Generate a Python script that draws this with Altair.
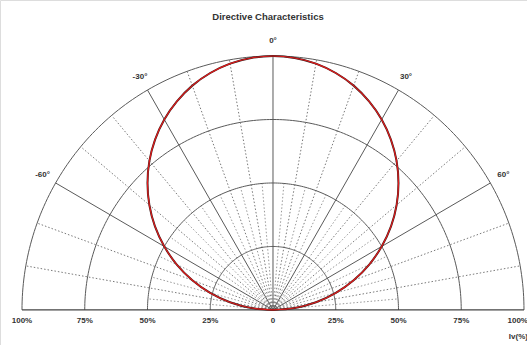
import math
import altair as alt
import pandas as pd

# Relative luminous intensity (%) against emission angle (degrees)
angles = [-90, -85, -80, -75, -70, -65, -60, -55, -50, -45, -40, -35, -30, -25, -20, -15, -10, -5,
          0, 5, 10, 15, 20, 25, 30, 35, 40, 45, 50, 55, 60, 65, 70, 75, 80, 85, 90]
intensity = [0, 8.7, 17.4, 25.9, 34.2, 42.3, 50.0, 57.4, 64.3, 70.7, 76.6, 81.9, 86.6, 90.6, 94.0, 96.6, 98.5, 99.6,
             100, 99.6, 98.5, 96.6, 94.0, 90.6, 86.6, 81.9, 76.6, 70.7, 64.3, 57.4, 50.0, 42.3, 34.2, 25.9, 17.4, 8.7, 0]

ring_levels = [25, 50, 75, 100]
major_spokes = [-60, -30, 0, 30, 60]
minor_spokes = [-80, -70, -50, -40, -20, -10, 10, 20, 40, 50, 70, 80]
inner_spokes = [-85, -75, -65, -55, -45, -35, -25, -15, -5, 5, 15, 25, 35, 45, 55, 65, 75, 85]
angle_labels = ["-60°", "-30°", "0°", "30°", "60°"]
axis_ticks = [-100, -75, -50, -25, 0, 25, 50, 75]
axis_labels = ["100%", "75%", "50%", "25%", "0", "25%", "50%", "75%"]
edge_label = "100%"

title = "Directive Characteristics"
unit_label = "Iv(%)"

LABEL_R = 106
INNER_R = 50


def polar(r, deg):
    a = math.radians(deg)
    return r * math.sin(a), r * math.cos(a)


# polar-to-cartesian tables
curve = pd.DataFrame(
    [dict(order=i, x=polar(r, a)[0], y=polar(r, a)[1]) for i, (a, r) in enumerate(zip(angles, intensity))]
)

ring_rows = []
for lvl in ring_levels:
    for d in range(-90, 91):
        x, y = polar(lvl, d)
        ring_rows.append(dict(ring=lvl, order=d, x=x, y=y))
rings = pd.DataFrame(ring_rows)


def spokes(list_deg, r):
    rows = []
    for d in list_deg:
        x, y = polar(r, d)
        rows.append(dict(x=0.0, y=0.0, x2=x, y2=y))
    return pd.DataFrame(rows)


major = spokes(major_spokes, 100)
minor = spokes(minor_spokes, 100)
inner = spokes(inner_spokes, INNER_R)

alabels = pd.DataFrame(
    [dict(x=polar(LABEL_R, d)[0], y=polar(LABEL_R, d)[1], t=t) for d, t in zip(major_spokes, angle_labels)]
)
blabels = pd.DataFrame(dict(x=axis_ticks, y=[0] * len(axis_ticks), t=axis_labels))

xs = alt.Scale(domain=[-108.76, 101.2], nice=False, zero=False)
ys = alt.Scale(domain=[-13.8, 122.05], nice=False, zero=False)
X = lambda f="x": alt.X(f"{f}:Q", scale=xs, axis=None)
Y = lambda f="y": alt.Y(f"{f}:Q", scale=ys, axis=None)

ring_layer = alt.Chart(rings).mark_line(color="#5a5a5a", strokeWidth=1).encode(
    x=X(), y=Y(), detail="ring:N", order="order:Q"
)
major_layer = alt.Chart(major).mark_rule(color="#5a5a5a", strokeWidth=1).encode(
    x=X(), y=Y(), x2="x2:Q", y2="y2:Q"
)
minor_layer = alt.Chart(minor).mark_rule(color="#7a7a7a", strokeWidth=1, strokeDash=[1.5, 2]).encode(
    x=X(), y=Y(), x2="x2:Q", y2="y2:Q"
)
inner_layer = alt.Chart(inner).mark_rule(color="#9a9a9a", strokeWidth=1, strokeDash=[1.5, 2]).encode(
    x=X(), y=Y(), x2="x2:Q", y2="y2:Q"
)
base_layer = alt.Chart(pd.DataFrame(dict(x=[-100], x2=[100], y=[0]))).mark_rule(
    color="#444444", strokeWidth=1.2
).encode(x=X(), x2="x2:Q", y=Y())

curve_under = alt.Chart(curve).mark_line(color="#3a2020", strokeWidth=2.0, interpolate="cardinal").encode(
    x=X(), y=Y(), order="order:Q"
)
curve_layer = alt.Chart(curve).mark_line(color="#e01b1b", strokeWidth=1.2, interpolate="cardinal").encode(
    x=X(), y=Y(), order="order:Q"
)

txt = dict(font="Liberation Sans", fontWeight="bold", fontSize=8, color="#333333")
angle_text = alt.Chart(alabels).mark_text(baseline="middle", **txt).encode(
    x=X(), y=Y(), text="t:N"
)
axis_text = alt.Chart(blabels).mark_text(baseline="middle", dy=11, **txt).encode(
    x=X(), y=Y(), text="t:N"
)
# right-most tick label and unit caption are kept inside the right edge
edge_text = alt.Chart(pd.DataFrame(dict(x=[100], y=[0], t=[edge_label]))).mark_text(
    align="right", baseline="middle", dx=4, dy=11, **txt
).encode(x=X(), y=Y(), text="t:N")
unit_text = alt.Chart(pd.DataFrame(dict(x=[100], y=[0], t=[unit_label]))).mark_text(
    align="right", baseline="middle", dx=4, dy=27, **txt
).encode(x=X(), y=Y(), text="t:N")
title_text = alt.Chart(pd.DataFrame(dict(x=[0], y=[0], t=[title]))).mark_text(
    baseline="middle", font="Liberation Sans", fontWeight="bold", fontSize=9.5, color="#333333",
    dx=-5, dy=-293
).encode(x=X(), y=Y(), text="t:N")

chart = alt.layer(
    inner_layer, minor_layer, major_layer, ring_layer, base_layer,
    curve_under, curve_layer, angle_text, axis_text, edge_text, unit_text, title_text
).properties(
    width=527, height=345, autosize=alt.AutoSizeParams(type="none"), padding=0
).configure_view(stroke=None).configure(background="white")

chart.save("out.html", embed_options={"renderer": "svg", "actions": False})
